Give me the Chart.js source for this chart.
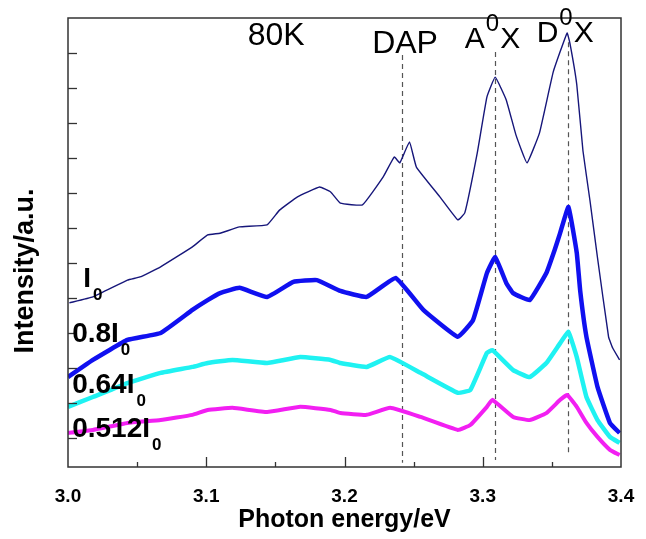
<!DOCTYPE html>
<html><head><meta charset="utf-8">
<script src="https://cdn.jsdelivr.net/npm/chart.js@4.4.0/dist/chart.umd.min.js"></script>
<style>html,body{margin:0;padding:0;background:#fff}</style>
</head><body>
<canvas id="c" width="646" height="539" style="display:block;width:646px;height:539px"></canvas>
<script>
// ---- data (photon energy in eV, intensity in arbitrary units) ----
const energyI0   = [3.001,3.018,3.043,3.052,3.067,3.090,3.101,3.110,3.124,3.144,3.153,3.166,3.182,3.190,3.197,3.213,3.228,3.236,3.240,3.247,3.252,3.269,3.282,3.287,3.296,3.303,3.309,3.317,3.324,3.332,3.341,3.351,3.361,3.363,3.368,3.3725,3.3775,3.383,3.391,3.394,3.399];
const valuesI0   = [4.86,5.03,5.51,5.60,5.89,6.46,6.80,6.85,7.03,7.09,7.51,7.89,8.17,8.03,7.71,7.66,8.46,9.03,8.86,9.46,8.74,7.89,7.23,7.43,9.14,10.74,11.31,10.66,9.66,8.86,9.71,11.46,12.57,12.29,11.10,9.20,7.80,6.15,3.89,3.57,3.23];

const energy08   = [3.000,3.018,3.043,3.067,3.090,3.101,3.110,3.124,3.144,3.163,3.180,3.197,3.216,3.237,3.257,3.282,3.293,3.303,3.309,3.317,3.322,3.334,3.346,3.352,3.356,3.362,3.368,3.3705,3.375,3.383,3.392,3.399];
const values08   = [2.74,3.23,3.80,4.00,4.66,4.94,5.14,5.29,5.03,5.46,5.51,5.20,5.03,5.57,4.66,3.89,4.37,5.71,6.17,5.43,5.14,4.94,5.71,6.37,6.86,7.60,6.29,5.20,3.89,2.46,1.43,1.14];

const energy064  = [3.000,3.018,3.043,3.067,3.090,3.101,3.119,3.144,3.168,3.190,3.197,3.216,3.233,3.255,3.282,3.291,3.303,3.307,3.322,3.334,3.346,3.356,3.362,3.368,3.375,3.383,3.392,3.399];
const values064  = [1.89,2.17,2.57,2.86,3.03,3.14,3.23,3.14,3.31,3.23,3.14,3.03,3.31,2.86,2.29,2.37,3.43,3.51,2.94,2.74,3.14,3.71,4.03,3.31,2.17,1.51,1.03,0.86];

const energy0512 = [3.000,3.018,3.043,3.067,3.090,3.101,3.119,3.144,3.168,3.190,3.197,3.216,3.233,3.255,3.282,3.291,3.303,3.307,3.322,3.334,3.346,3.356,3.361,3.368,3.375,3.383,3.392,3.399];
const values0512 = [1.14,1.23,1.43,1.51,1.66,1.80,1.86,1.74,1.89,1.80,1.71,1.66,1.86,1.60,1.23,1.37,1.89,2.09,1.60,1.51,1.71,2.09,2.23,1.89,1.43,1.03,0.66,0.51];

const xTickLabels  = ['3.0','3.1','3.2','3.3','3.4'];
const xMajorTicks  = [3.1,3.2,3.3];
const xMinorTicks  = [3.05,3.15,3.25,3.35];
const yTickValues  = [1,2,3,4,5,6,7,8,9,10,11,12];

const peakEnergies = [3.2417,3.3085,3.3615];
const dashTop      = [11.94,12.03,12.31];
const dashBottom   = [0.29,0.37,0.51];

const curveLabels  = ['I','0.8I','0.64I','0.512I'];
const curveLabelE  = [3.011,3.003,3.003,3.003];
const curveLabelV  = [5.31,3.74,2.29,1.03];

const FONT = '"Liberation Sans", Arial, Helvetica, sans-serif';

function pts(xs, ys){ return xs.map((e,i)=>({x:e, y:ys[i]})); }

const decor = {
  id:'decor',
  beforeDatasetsDraw(chart){
    const {ctx, scales:{x,y}} = chart;
    ctx.save();
    ctx.strokeStyle='#555'; ctx.lineWidth=1.2; ctx.setLineDash([5,4]);
    peakEnergies.forEach((e,i)=>{
      const px = Math.round(x.getPixelForValue(e))+0.5;
      ctx.beginPath();
      ctx.moveTo(px, y.getPixelForValue(dashTop[i]));
      ctx.lineTo(px, y.getPixelForValue(dashBottom[i]));
      ctx.stroke();
    });
    ctx.restore();
  },
  afterDraw(chart){
    const {ctx, chartArea:a, scales:{x,y}} = chart;
    ctx.save();
    ctx.strokeStyle='#333'; ctx.lineWidth=1.5; ctx.setLineDash([]);
    ctx.strokeRect(a.left, a.top, a.right-a.left, a.bottom-a.top);
    ctx.lineWidth=1.3;
    yTickValues.forEach(v=>{
      const py = Math.round(y.getPixelForValue(v))+0.5;
      ctx.beginPath(); ctx.moveTo(a.left,py); ctx.lineTo(a.left+9,py); ctx.stroke();
    });
    xMajorTicks.forEach(v=>{
      const px = Math.round(x.getPixelForValue(v))+0.5;
      ctx.beginPath(); ctx.moveTo(px,a.bottom); ctx.lineTo(px,a.bottom-10); ctx.stroke();
    });
    xMinorTicks.forEach(v=>{
      const px = Math.round(x.getPixelForValue(v))+0.5;
      ctx.beginPath(); ctx.moveTo(px,a.bottom); ctx.lineTo(px,a.bottom-5); ctx.stroke();
    });

    ctx.fillStyle='#000';
    // y axis title
    ctx.save();
    ctx.translate(26, 271); ctx.rotate(-Math.PI/2);
    ctx.font='bold 27px '+FONT; ctx.textAlign='center'; ctx.textBaseline='middle';
    ctx.fillText('Intensity/a.u.', 0, 0);
    ctx.restore();

    ctx.textAlign='left'; ctx.textBaseline='alphabetic';
    ctx.font='32px '+FONT;
    ctx.fillText('80K', x.getPixelForValue(3.130), y.getPixelForValue(12.23));
    ctx.fillText('DAP', x.getPixelForValue(3.220), y.getPixelForValue(12.0));

    function supLabel(a1, sup, a2, e, v){
      let px = x.getPixelForValue(e), py = y.getPixelForValue(v);
      ctx.font='30px '+FONT; ctx.fillText(a1, px, py); px += ctx.measureText(a1).width + 1;
      ctx.font='24px '+FONT; ctx.fillText(sup, px, py-17); px += ctx.measureText(sup).width + 1;
      ctx.font='30px '+FONT; ctx.fillText(a2, px, py);
    }
    supLabel('A','0','X', 3.287, 12.14);
    supLabel('D','0','X', 3.339, 12.31);

    curveLabels.forEach((t,i)=>{
      let px = x.getPixelForValue(curveLabelE[i]), py = y.getPixelForValue(curveLabelV[i]);
      ctx.font='bold 28px '+FONT; ctx.fillText(t, px, py);
      px += ctx.measureText(t).width + 2;
      ctx.font='bold 17px '+FONT; ctx.fillText('0', px, py+13);
    });
    ctx.restore();
  }
};

new Chart(document.getElementById('c'), {
  type:'line',
  data:{ datasets:[
    {label:'I0',     data:pts(energyI0,valuesI0),     borderColor:'#16167a', borderWidth:1.4},
    {label:'0.8I0',  data:pts(energy08,values08),     borderColor:'#1010f0', borderWidth:4.5},
    {label:'0.64I0', data:pts(energy064,values064),   borderColor:'#1ff2f2', borderWidth:4.5},
    {label:'0.512I0',data:pts(energy0512,values0512), borderColor:'#f21ff2', borderWidth:4}
  ]},
  options:{
    responsive:false, animation:false,
    layout:{padding:{top:18,right:25,left:0,bottom:0}},
    elements:{point:{radius:0}, line:{tension:0.1, borderJoinStyle:'round'}},
    plugins:{legend:{display:false}, tooltip:{enabled:false}},
    scales:{
      x:{type:'linear', min:3.0, max:3.4,
         grid:{display:false}, border:{display:false},
         ticks:{stepSize:0.1, padding:10, color:'#000', font:{family:FONT, size:19, weight:'bold'},
                callback:(v,i)=>xTickLabels[Math.round((v-3.0)*10)] ?? ''},
         title:{display:true, text:'Photon energy/eV', color:'#000', padding:{top:0,bottom:4},
                font:{family:FONT, size:25, weight:'bold'}},
         afterFit:(s)=>{s.height=72;}},
      y:{type:'linear', min:0.17, max:13,
         grid:{display:false}, border:{display:false},
         ticks:{display:false},
         afterFit:(s)=>{s.width=68;}}
    }
  },
  plugins:[decor]
});
</script>
</body></html>
